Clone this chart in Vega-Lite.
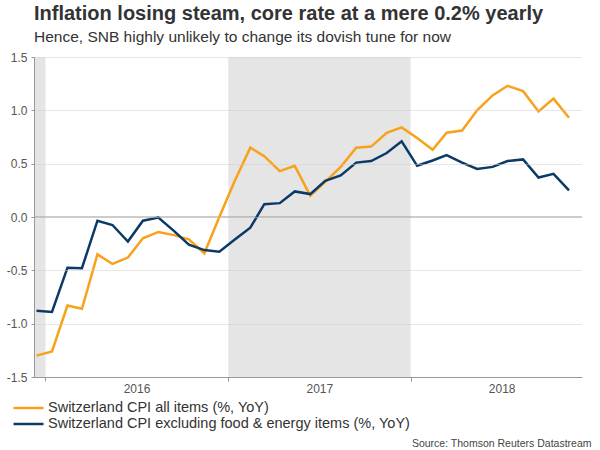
{
  "$schema": "https://vega.github.io/schema/vega-lite/v6.json",
  "width": 548,
  "height": 320,
  "autosize": {"type": "none"},
  "padding": {"left": 34, "top": 57, "right": 18, "bottom": 73},
  "background": "white",
  "config": {"font": "Liberation Sans", "view": {"stroke": null}},
  "title": {
    "text": "Inflation losing steam, core rate at a mere 0.2% yearly",
    "subtitle": "Hence, SNB highly unlikely to change its dovish tune for now",
    "anchor": "start",
    "frame": "group",
    "fontSize": 20,
    "fontWeight": "bold",
    "color": "#333333",
    "subtitleFontSize": 15.5,
    "subtitleColor": "#333333",
    "subtitlePadding": 6,
    "offset": 6
  },
  "datasets": {
    "bands": [
      {"start": "2015-01-01", "end": "2016-01-01"},
      {"start": "2017-01-01", "end": "2018-01-01"}
    ],
    "cpi": [
      {"date": "2015-12-14", "series": "Switzerland CPI all items (%, YoY)", "value": -1.30},
      {"date": "2016-01-14", "series": "Switzerland CPI all items (%, YoY)", "value": -1.26},
      {"date": "2016-02-14", "series": "Switzerland CPI all items (%, YoY)", "value": -0.83},
      {"date": "2016-03-14", "series": "Switzerland CPI all items (%, YoY)", "value": -0.86},
      {"date": "2016-04-14", "series": "Switzerland CPI all items (%, YoY)", "value": -0.35},
      {"date": "2016-05-14", "series": "Switzerland CPI all items (%, YoY)", "value": -0.44},
      {"date": "2016-06-14", "series": "Switzerland CPI all items (%, YoY)", "value": -0.38},
      {"date": "2016-07-14", "series": "Switzerland CPI all items (%, YoY)", "value": -0.20},
      {"date": "2016-08-14", "series": "Switzerland CPI all items (%, YoY)", "value": -0.14},
      {"date": "2016-09-14", "series": "Switzerland CPI all items (%, YoY)", "value": -0.17},
      {"date": "2016-10-14", "series": "Switzerland CPI all items (%, YoY)", "value": -0.21},
      {"date": "2016-11-14", "series": "Switzerland CPI all items (%, YoY)", "value": -0.34},
      {"date": "2016-12-14", "series": "Switzerland CPI all items (%, YoY)", "value": 0.00},
      {"date": "2017-01-14", "series": "Switzerland CPI all items (%, YoY)", "value": 0.34},
      {"date": "2017-02-14", "series": "Switzerland CPI all items (%, YoY)", "value": 0.65},
      {"date": "2017-03-14", "series": "Switzerland CPI all items (%, YoY)", "value": 0.57},
      {"date": "2017-04-14", "series": "Switzerland CPI all items (%, YoY)", "value": 0.43},
      {"date": "2017-05-14", "series": "Switzerland CPI all items (%, YoY)", "value": 0.48},
      {"date": "2017-06-14", "series": "Switzerland CPI all items (%, YoY)", "value": 0.20},
      {"date": "2017-07-14", "series": "Switzerland CPI all items (%, YoY)", "value": 0.33},
      {"date": "2017-08-14", "series": "Switzerland CPI all items (%, YoY)", "value": 0.47},
      {"date": "2017-09-14", "series": "Switzerland CPI all items (%, YoY)", "value": 0.65},
      {"date": "2017-10-14", "series": "Switzerland CPI all items (%, YoY)", "value": 0.66},
      {"date": "2017-11-14", "series": "Switzerland CPI all items (%, YoY)", "value": 0.79},
      {"date": "2017-12-14", "series": "Switzerland CPI all items (%, YoY)", "value": 0.84},
      {"date": "2018-01-14", "series": "Switzerland CPI all items (%, YoY)", "value": 0.74},
      {"date": "2018-02-14", "series": "Switzerland CPI all items (%, YoY)", "value": 0.63},
      {"date": "2018-03-14", "series": "Switzerland CPI all items (%, YoY)", "value": 0.79},
      {"date": "2018-04-14", "series": "Switzerland CPI all items (%, YoY)", "value": 0.81},
      {"date": "2018-05-14", "series": "Switzerland CPI all items (%, YoY)", "value": 1.00},
      {"date": "2018-06-14", "series": "Switzerland CPI all items (%, YoY)", "value": 1.14},
      {"date": "2018-07-14", "series": "Switzerland CPI all items (%, YoY)", "value": 1.23},
      {"date": "2018-08-14", "series": "Switzerland CPI all items (%, YoY)", "value": 1.18},
      {"date": "2018-09-14", "series": "Switzerland CPI all items (%, YoY)", "value": 0.99},
      {"date": "2018-10-14", "series": "Switzerland CPI all items (%, YoY)", "value": 1.11},
      {"date": "2018-11-14", "series": "Switzerland CPI all items (%, YoY)", "value": 0.93},
      {"date": "2015-12-14", "series": "Switzerland CPI excluding food & energy items (%, YoY)", "value": -0.88},
      {"date": "2016-01-14", "series": "Switzerland CPI excluding food & energy items (%, YoY)", "value": -0.89},
      {"date": "2016-02-14", "series": "Switzerland CPI excluding food & energy items (%, YoY)", "value": -0.475},
      {"date": "2016-03-14", "series": "Switzerland CPI excluding food & energy items (%, YoY)", "value": -0.48},
      {"date": "2016-04-14", "series": "Switzerland CPI excluding food & energy items (%, YoY)", "value": -0.035},
      {"date": "2016-05-14", "series": "Switzerland CPI excluding food & energy items (%, YoY)", "value": -0.075},
      {"date": "2016-06-14", "series": "Switzerland CPI excluding food & energy items (%, YoY)", "value": -0.23},
      {"date": "2016-07-14", "series": "Switzerland CPI excluding food & energy items (%, YoY)", "value": -0.035},
      {"date": "2016-08-14", "series": "Switzerland CPI excluding food & energy items (%, YoY)", "value": -0.005},
      {"date": "2016-09-14", "series": "Switzerland CPI excluding food & energy items (%, YoY)", "value": -0.13},
      {"date": "2016-10-14", "series": "Switzerland CPI excluding food & energy items (%, YoY)", "value": -0.26},
      {"date": "2016-11-14", "series": "Switzerland CPI excluding food & energy items (%, YoY)", "value": -0.31},
      {"date": "2016-12-14", "series": "Switzerland CPI excluding food & energy items (%, YoY)", "value": -0.325},
      {"date": "2017-01-14", "series": "Switzerland CPI excluding food & energy items (%, YoY)", "value": -0.21},
      {"date": "2017-02-14", "series": "Switzerland CPI excluding food & energy items (%, YoY)", "value": -0.10},
      {"date": "2017-03-14", "series": "Switzerland CPI excluding food & energy items (%, YoY)", "value": 0.12},
      {"date": "2017-04-14", "series": "Switzerland CPI excluding food & energy items (%, YoY)", "value": 0.13},
      {"date": "2017-05-14", "series": "Switzerland CPI excluding food & energy items (%, YoY)", "value": 0.24},
      {"date": "2017-06-14", "series": "Switzerland CPI excluding food & energy items (%, YoY)", "value": 0.215},
      {"date": "2017-07-14", "series": "Switzerland CPI excluding food & energy items (%, YoY)", "value": 0.34},
      {"date": "2017-08-14", "series": "Switzerland CPI excluding food & energy items (%, YoY)", "value": 0.39},
      {"date": "2017-09-14", "series": "Switzerland CPI excluding food & energy items (%, YoY)", "value": 0.51},
      {"date": "2017-10-14", "series": "Switzerland CPI excluding food & energy items (%, YoY)", "value": 0.525},
      {"date": "2017-11-14", "series": "Switzerland CPI excluding food & energy items (%, YoY)", "value": 0.60},
      {"date": "2017-12-14", "series": "Switzerland CPI excluding food & energy items (%, YoY)", "value": 0.71},
      {"date": "2018-01-14", "series": "Switzerland CPI excluding food & energy items (%, YoY)", "value": 0.48},
      {"date": "2018-02-14", "series": "Switzerland CPI excluding food & energy items (%, YoY)", "value": 0.53},
      {"date": "2018-03-14", "series": "Switzerland CPI excluding food & energy items (%, YoY)", "value": 0.58},
      {"date": "2018-04-14", "series": "Switzerland CPI excluding food & energy items (%, YoY)", "value": 0.51},
      {"date": "2018-05-14", "series": "Switzerland CPI excluding food & energy items (%, YoY)", "value": 0.45},
      {"date": "2018-06-14", "series": "Switzerland CPI excluding food & energy items (%, YoY)", "value": 0.47},
      {"date": "2018-07-14", "series": "Switzerland CPI excluding food & energy items (%, YoY)", "value": 0.525},
      {"date": "2018-08-14", "series": "Switzerland CPI excluding food & energy items (%, YoY)", "value": 0.54},
      {"date": "2018-09-14", "series": "Switzerland CPI excluding food & energy items (%, YoY)", "value": 0.37},
      {"date": "2018-10-14", "series": "Switzerland CPI excluding food & energy items (%, YoY)", "value": 0.405},
      {"date": "2018-11-14", "series": "Switzerland CPI excluding food & energy items (%, YoY)", "value": 0.25}
    ]
  },
  "layer": [
    {
      "data": {"name": "bands"},
      "mark": {"type": "rect", "color": "#e5e5e5", "clip": true},
      "encoding": {
        "x": {
          "field": "start",
          "type": "temporal",
          "scale": {"domain": [{"year": 2015, "month": 12, "date": 9}, {"year": 2018, "month": 12, "date": 10}]},
          "axis": {
            "values": [{"year": 2016, "month": 1, "date": 1}, {"year": 2017, "month": 1, "date": 1}, {"year": 2018, "month": 1, "date": 1}],
            "format": "%Y",
            "labelOffset": 91,
            "labelAlign": "center",
            "labelFlush": false,
            "labelBound": false,
            "labelOverlap": false,
            "grid": false,
            "tickSize": 4,
            "tickColor": "#999999",
            "domainColor": "#999999",
            "labelFontSize": 12,
            "labelColor": "#555555",
            "labelPadding": 2,
            "title": "Source: Thomson Reuters Datastream",
            "titleAnchor": "end",
            "titleAlign": "right",
            "titleBaseline": "alphabetic",
            "titleFontSize": 10.5,
            "titleFontWeight": "normal",
            "titleColor": "#444444",
            "titleX": 557,
            "titleY": 69,
            "zindex": 1
          }
        },
        "x2": {"field": "end"}
      }
    },
    {
      "data": {"values": [{}]},
      "mark": {"type": "rule", "color": "#999999", "strokeWidth": 1},
      "encoding": {"y": {"datum": 0, "type": "quantitative", "scale": {"domain": [-1.5, 1.5], "nice": false}}}
    },
    {
      "data": {"name": "cpi"},
      "mark": {"type": "line", "strokeWidth": 2.5},
      "encoding": {
        "x": {"field": "date", "type": "temporal"},
        "y": {
          "field": "value",
          "type": "quantitative",
          "scale": {"domain": [-1.5, 1.5], "nice": false},
          "axis": {
            "values": [-1.5, -1, -0.5, 0, 0.5, 1, 1.5],
            "labelExpr": "datum.value < 0 ? '-' + format(-datum.value, '.1f') : format(datum.value, '.1f')",
            "grid": true,
            "gridColor": "#cccccc",
            "gridDash": [1, 1],
            "domainColor": "#999999",
            "tickColor": "#999999",
            "tickSize": 3,
            "labelFontSize": 12,
            "labelColor": "#555555",
            "labelPadding": 4,
            "title": null,
            "zindex": 1
          }
        },
        "color": {
          "field": "series",
          "type": "nominal",
          "scale": {
            "domain": ["Switzerland CPI all items (%, YoY)", "Switzerland CPI excluding food & energy items (%, YoY)"],
            "range": ["#f9a11b", "#0b3a66"]
          },
          "legend": {
            "orient": "none",
            "legendX": -14.5,
            "legendY": 342,
            "direction": "vertical",
            "title": null,
            "symbolType": "M-2,0H2",
            "symbolSize": 225,
            "symbolStrokeWidth": 2.5,
            "labelFontSize": 14.5,
            "labelColor": "#333333",
            "labelOffset": 10.5,
            "labelLimit": 0,
            "rowPadding": 0,
            "padding": 0
          }
        }
      }
    }
  ]
}
